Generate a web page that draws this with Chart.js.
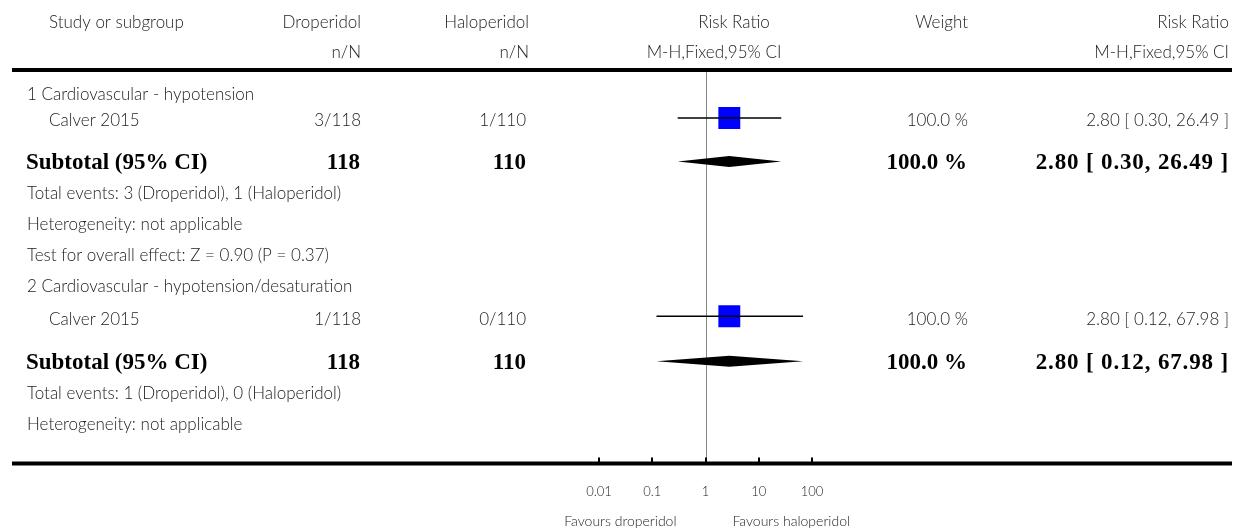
<!DOCTYPE html>
<html>
<head>
<meta charset="utf-8">
<script src="https://cdn.jsdelivr.net/npm/chart.js@4.4.1/dist/chart.umd.min.js"></script>
<style>
  html, body { margin: 0; padding: 0; background: #fff; }
  canvas { display: block; }
</style>
</head>
<body>
<canvas id="forest" width="1240" height="531"></canvas>
<script>
// data
const subgroups = ['1 Cardiovascular - hypotension', '2 Cardiovascular - hypotension/desaturation'];
const studies = ['Calver 2015', 'Calver 2015'];
const droEvents = [3, 1];
const droTotal = [118, 118];
const halEvents = [1, 0];
const halTotal = [110, 110];
const riskRatio = [2.80, 2.80];
const ciLower = [0.30, 0.12];
const ciUpper = [26.49, 67.98];
const weights = [100.0, 100.0];
const subRatio = [2.80, 2.80];
const subLower = [0.30, 0.12];
const subUpper = [26.49, 67.98];
const testZ = ['0.90', null];
const testP = ['0.37', null];
const tickValues = [0.01, 0.1, 1, 10, 100];
const tickLabels = ['0.01', '0.1', '1', '10', '100'];

// row layout (y scale units), one entry per subgroup
const rowTitle = [0.8, 7.0];
const rowStudy = [1.55, 7.95];
const rowSub = [2.95, 9.4];
const rowTotal = [4.0, 10.45];
const rowHet = [5.0, 11.45];
const rowTest = [6.0, null];

const LIGHT = '300 17px Lato';
const BOLD = 'bold 23px "Liberation Serif"';
const TXT = '#222';

const fmt = v => v.toFixed(2);
const ciText = (r, l, u) => `${fmt(r)} [ ${fmt(l)}, ${fmt(u)} ]`;

const datasets = [];
studies.forEach((s, i) => {
    datasets.push({
        type: 'line',
        data: [{ x: ciLower[i], y: rowStudy[i] }, { x: ciUpper[i], y: rowStudy[i] }],
        borderColor: '#000',
        borderWidth: 1.5,
        pointRadius: 0
    });
});
datasets.push({
    type: 'scatter',
    data: studies.map((s, i) => ({ x: riskRatio[i], y: rowStudy[i] })),
    pointStyle: 'rect',
    pointRadius: 15.5,
    backgroundColor: '#0000ff',
    borderWidth: 0
});
datasets.push({
    type: 'scatter',
    data: studies.map((s, i) => ({ x: riskRatio[i], y: rowStudy[i] })),
    pointStyle: 'line',
    rotation: 90,
    pointRadius: 3,
    borderColor: '#000',
    borderWidth: 1
});

function text(ctx, str, x, y, align, font, color, spacing) {
    ctx.font = font;
    ctx.fillStyle = color;
    ctx.textAlign = align;
    ctx.textBaseline = 'middle';
    ctx.letterSpacing = spacing || '0px';
    ctx.fillText(str, x, y);
    ctx.letterSpacing = '0px';
}

const forestPlugin = {
    id: 'forest',
    beforeDatasetsDraw(chart) {
        const { ctx, scales: { x, y } } = chart;
        ctx.save();
        ctx.strokeStyle = '#888';
        ctx.lineWidth = 1;
        const cx = Math.round(x.getPixelForValue(1)) + 0.5;
        ctx.beginPath();
        ctx.moveTo(cx, y.top);
        ctx.lineTo(cx, y.bottom);
        ctx.stroke();
        ctx.restore();
    },
    afterDatasetsDraw(chart) {
        const { ctx, scales: { x, y } } = chart;
        ctx.save();
        ctx.fillStyle = '#000';
        subgroups.forEach((g, i) => {
            const py = y.getPixelForValue(rowSub[i]);
            const h = 5.5;
            ctx.beginPath();
            ctx.moveTo(x.getPixelForValue(subLower[i]), py);
            ctx.lineTo(x.getPixelForValue(subRatio[i]), py - h);
            ctx.lineTo(x.getPixelForValue(subUpper[i]), py);
            ctx.lineTo(x.getPixelForValue(subRatio[i]), py + h);
            ctx.closePath();
            ctx.fill();
        });
        ctx.restore();
    },
    afterDraw(chart) {
        const { ctx, scales: { x, y } } = chart;
        ctx.save();
        // rules
        ctx.strokeStyle = '#000';
        ctx.lineWidth = 4;
        ctx.beginPath();
        ctx.moveTo(12, y.top); ctx.lineTo(1232, y.top);
        ctx.moveTo(12, y.bottom); ctx.lineTo(1232, y.bottom);
        ctx.stroke();
        ctx.lineWidth = 2;
        tickValues.forEach(v => {
            const px = Math.round(x.getPixelForValue(v));
            ctx.beginPath();
            ctx.moveTo(px, y.bottom - 6);
            ctx.lineTo(px, y.bottom);
            ctx.stroke();
        });

        // header
        const h1 = y.getPixelForValue(-1.52), h2 = y.getPixelForValue(-0.55);
        text(ctx, 'Study or subgroup', 49, h1, 'left', LIGHT, TXT);
        text(ctx, 'Droperidol', 361, h1, 'right', LIGHT, TXT);
        text(ctx, 'Haloperidol', 529, h1, 'right', LIGHT, TXT);
        text(ctx, 'Risk Ratio', 734, h1, 'center', LIGHT, TXT);
        text(ctx, 'Weight', 968, h1, 'right', LIGHT, TXT);
        text(ctx, 'Risk Ratio', 1229, h1, 'right', LIGHT, TXT);
        text(ctx, 'n/N', 361, h2, 'right', LIGHT, TXT);
        text(ctx, 'n/N', 529, h2, 'right', LIGHT, TXT);
        text(ctx, 'M-H,Fixed,95% CI', 714, h2, 'center', LIGHT, TXT);
        text(ctx, 'M-H,Fixed,95% CI', 1229, h2, 'right', LIGHT, TXT);

        subgroups.forEach((g, i) => {
            text(ctx, g, 27, y.getPixelForValue(rowTitle[i]), 'left', LIGHT, TXT);
            const sy = y.getPixelForValue(rowStudy[i]) + 3;
            text(ctx, studies[i], 49, sy, 'left', LIGHT, TXT);
            text(ctx, `${droEvents[i]}/${droTotal[i]}`, 361, sy, 'right', LIGHT, TXT);
            text(ctx, `${halEvents[i]}/${halTotal[i]}`, 526, sy, 'right', LIGHT, TXT);
            text(ctx, `${weights[i].toFixed(1)} %`, 968, sy, 'right', LIGHT, TXT);
            text(ctx, ciText(riskRatio[i], ciLower[i], ciUpper[i]), 1229, sy, 'right', LIGHT, TXT);

            const by = y.getPixelForValue(rowSub[i]) + 2;
            text(ctx, 'Subtotal (95% CI)', 26, by, 'left', BOLD, '#000');
            text(ctx, String(droTotal[i]), 360, by, 'right', BOLD, '#000');
            text(ctx, String(halTotal[i]), 526, by, 'right', BOLD, '#000');
            text(ctx, `${weights[i].toFixed(1)} %`, 967, by, 'right', BOLD, '#000');
            text(ctx, ciText(subRatio[i], subLower[i], subUpper[i]), 1229, by, 'right', BOLD, '#000', '0.85px');

            text(ctx, `Total events: ${droEvents[i]} (Droperidol), ${halEvents[i]} (Haloperidol)`, 27,
                y.getPixelForValue(rowTotal[i]), 'left', LIGHT, TXT);
            text(ctx, 'Heterogeneity: not applicable', 27, y.getPixelForValue(rowHet[i]), 'left', LIGHT, TXT);
            if (testZ[i]) {
                text(ctx, `Test for overall effect: Z = ${testZ[i]} (P = ${testP[i]})`, 27,
                    y.getPixelForValue(rowTest[i]), 'left', LIGHT, TXT);
            }
        });

        const c = x.getPixelForValue(1);
        text(ctx, 'Favours droperidol', c - 29, 521, 'right', '300 14px Lato', TXT);
        text(ctx, 'Favours haloperidol', c + 27, 521, 'left', '300 14px Lato', TXT);
        ctx.restore();
    }
};

new Chart(document.getElementById('forest'), {
    data: { datasets },
    plugins: [forestPlugin],
    options: {
        responsive: false,
        animation: false,
        devicePixelRatio: 1,
        layout: { padding: { left: 599, right: 428, top: 70, bottom: 10 } },
        plugins: { legend: { display: false }, tooltip: { enabled: false } },
        scales: {
            x: {
                type: 'logarithmic',
                min: 0.01,
                max: 100,
                afterBuildTicks: axis => { axis.ticks = tickValues.map(v => ({ value: v })); },
                grid: { display: false, drawTicks: false },
                border: { display: false },
                ticks: {
                    autoSkip: false,
                    maxRotation: 0,
                    padding: 21,
                    color: TXT,
                    font: { family: 'Lato', size: 13, weight: '300' },
                    callback: (v, i) => tickLabels[i]
                }
            },
            y: {
                type: 'linear',
                min: 0,
                max: 12.7,
                reverse: true,
                display: false
            }
        }
    }
});
</script>
</body>
</html>
